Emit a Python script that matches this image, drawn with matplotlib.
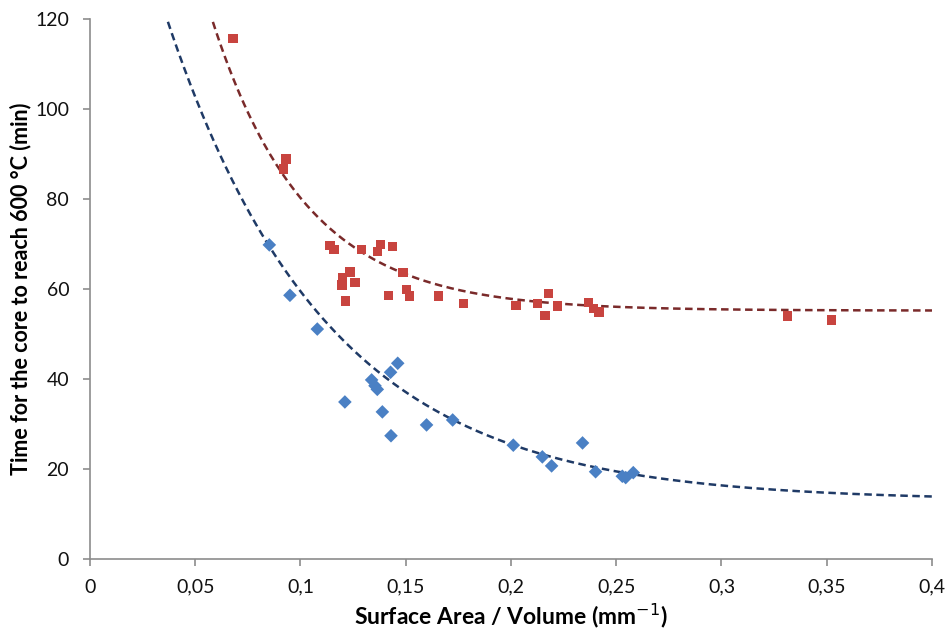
import matplotlib.pyplot as plt
import numpy as np
from matplotlib.ticker import FuncFormatter

red_x = [0.0679, 0.0931, 0.0920, 0.1140, 0.1160, 0.1290, 0.1380, 0.1365, 0.1436,
         0.1235, 0.1199, 0.1259, 0.1197, 0.1213, 0.1487, 0.1417, 0.1504, 0.1517,
         0.1655, 0.1774, 0.2024, 0.2127, 0.2177, 0.2162, 0.2220, 0.2367, 0.2391,
         0.2418, 0.3313, 0.3523]
red_y = [115.6, 88.9, 86.7, 69.6, 68.8, 68.8, 69.9, 68.3, 69.4,
         63.8, 62.4, 61.4, 60.9, 57.3, 63.7, 58.6, 59.9, 58.4,
         58.4, 56.8, 56.3, 56.8, 59.0, 54.1, 56.2, 57.0, 55.7,
         54.9, 54.0, 53.1]

blue_x = [0.0852, 0.0950, 0.1080, 0.1462, 0.1428, 0.1338, 0.1354, 0.1365, 0.1211,
          0.1389, 0.1599, 0.1430, 0.1723, 0.2011, 0.2149, 0.2193, 0.2340, 0.2402,
          0.2529, 0.2545, 0.2581]
blue_y = [69.8, 58.6, 51.1, 43.5, 41.5, 39.8, 38.5, 37.7, 34.9,
          32.7, 29.8, 27.4, 30.9, 25.3, 22.7, 20.7, 25.8, 19.4,
          18.4, 18.1, 19.2]

# trendline parameters y = c + a*exp(-b*x), estimated from the drawn curves
red_fit = [240.0, 22.6, 55.2]
blue_fit = [173.0, 13.14, 13.0]

def trend(x, p):
    a, b, c = p
    return c + a * np.exp(-b * x)

plt.rcParams['font.family'] = ['Lato', 'DejaVu Sans']

fig = plt.figure(figsize=(9.51, 6.31), dpi=100)
ax = fig.add_axes([0.0946, 0.114, 0.8854, 0.856])

xs = np.linspace(0.02, 0.4, 400)
ax.plot(xs, trend(xs, red_fit), color='#7a2a2a', lw=1.8, ls=(0, (3, 1.8)), zorder=2)
ax.plot(xs, trend(xs, blue_fit), color='#1f3a66', lw=1.8, ls=(0, (3, 1.8)), zorder=2)

ax.scatter(red_x, red_y, marker='s', s=46, color='#c8443f', edgecolors='none', zorder=3)
ax.scatter(blue_x, blue_y, marker='D', s=48, color='#4a80c4', edgecolors='none', zorder=3)

ax.set_xlim(0, 0.4)
ax.set_ylim(0, 120)
ax.set_xticks(np.arange(0, 0.401, 0.05))
ax.set_yticks(np.arange(0, 121, 20))
ax.xaxis.set_major_formatter(FuncFormatter(lambda v, pos: ('%g' % round(v, 2)).replace('.', ',')))

for s in ['top', 'right']:
    ax.spines[s].set_visible(False)
for s in ['left', 'bottom']:
    ax.spines[s].set_color('#8c8c8c')
    ax.spines[s].set_linewidth(1.2)
ax.tick_params(axis='both', direction='out', length=5, width=1.2, color='#8c8c8c',
               labelsize=14, labelcolor='#111111')
ax.tick_params(axis='x', pad=9)
ax.tick_params(axis='y', pad=10)

ax.set_xlabel('Surface Area / Volume (mm$^{-1}$)', fontsize=16.5, fontweight='bold', labelpad=4)
ax.set_ylabel('Time for the core to reach 600 °C (min)', fontsize=15.5, fontweight='bold', labelpad=3)

fig.savefig('out.png', dpi=100)
